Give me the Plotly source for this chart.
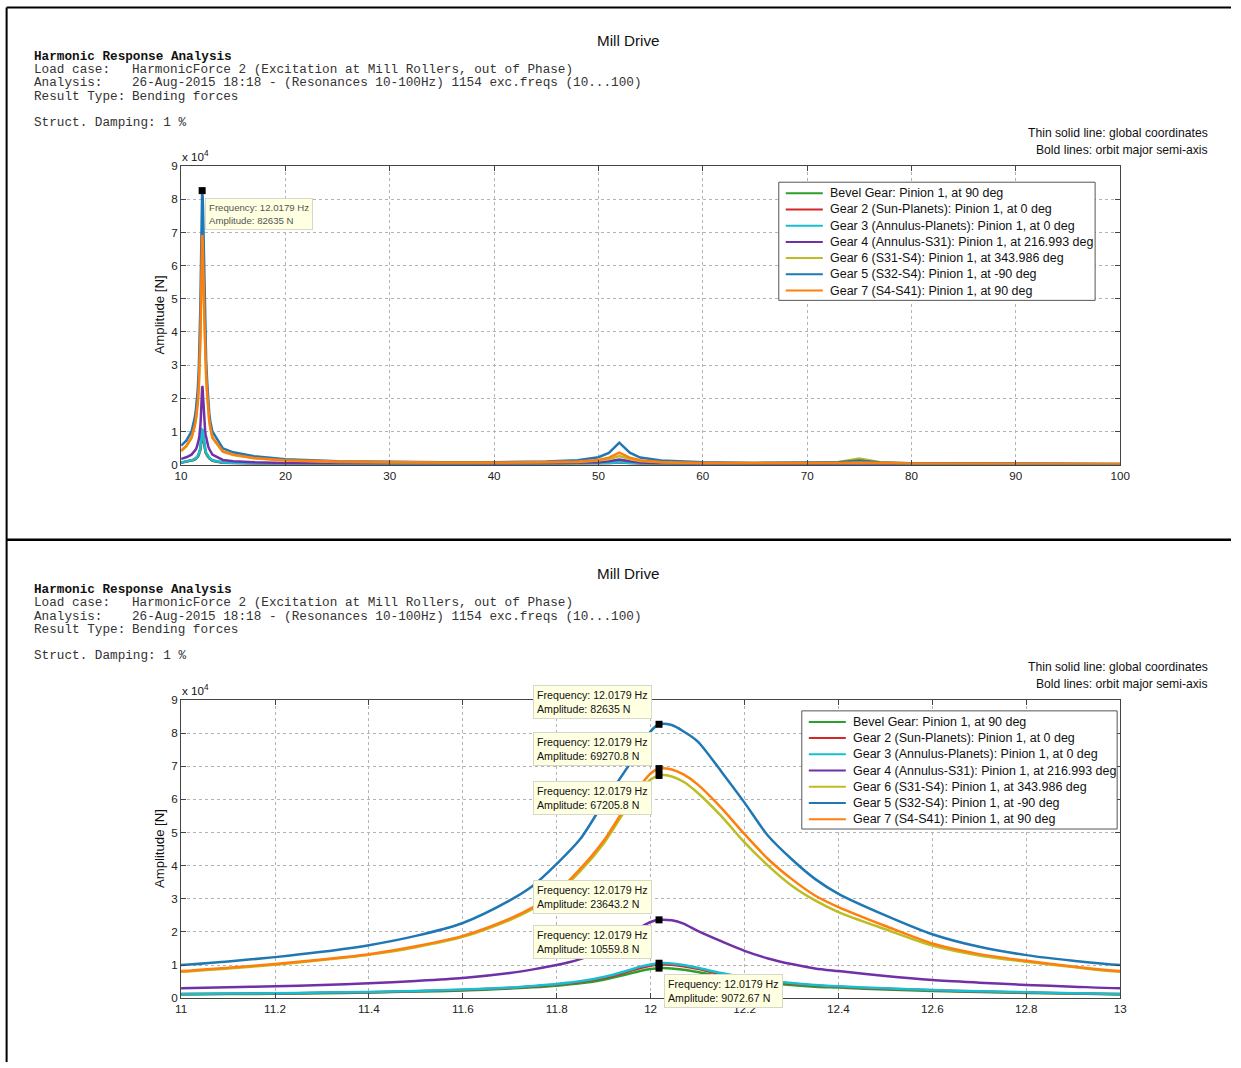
import plotly.graph_objects as go

# ---------------- data ----------------
freq = [10, 10.5, 11, 11.1, 11.2, 11.3, 11.4, 11.5, 11.6, 11.7,
        11.75, 11.8, 11.85, 11.9, 11.95, 11.98, 12.0, 12.0179, 12.045, 12.07,
        12.1, 12.15, 12.2, 12.25, 12.3, 12.35, 12.4, 12.5, 12.6, 12.7,
        12.8, 12.9, 13, 14, 15, 17, 20, 25, 30, 35,
        40, 45, 48, 50, 51, 52, 53, 54, 56, 60,
        65, 70, 73, 75, 77, 80, 90, 100]

bevel_gear = [550, 800, 1150, 1250, 1350, 1500, 1700, 2000, 2300, 2900,
              3300, 3800, 4500, 5600, 7200, 8300, 8800, 9072.67, 9000, 8600,
              7900, 6600, 5500, 4700, 4000, 3500, 3200, 2600, 2200, 1900,
              1600, 1400, 1150, 550, 400, 270, 180, 130, 130, 130,
              130, 180, 220, 300, 420, 600, 420, 260, 170, 130,
              90, 100, 200, 500, 200, 90, 70, 50]

gear2 = [580, 860, 1240, 1340, 1450, 1620, 1820, 2120, 2500, 3100,
         3550, 4150, 4900, 6100, 7900, 9200, 9800, 10150, 10100, 9650,
         8850, 7300, 6050, 5100, 4400, 3850, 3450, 2850, 2400, 2000,
         1700, 1450, 1240, 580, 430, 290, 190, 140, 140, 140,
         140, 190, 240, 330, 480, 650, 480, 290, 190, 140,
         95, 95, 140, 230, 140, 95, 75, 55]

gear3 = [600, 900, 1300, 1400, 1500, 1700, 1900, 2200, 2600, 3200,
         3700, 4300, 5100, 6400, 8300, 9600, 10200, 10559.8, 10500, 10000,
         9200, 7600, 6300, 5300, 4600, 4000, 3600, 3000, 2500, 2100,
         1800, 1500, 1300, 600, 450, 300, 200, 150, 150, 150,
         150, 200, 250, 350, 500, 700, 500, 300, 200, 150,
         100, 100, 150, 250, 150, 100, 80, 60]

gear4 = [1700, 2200, 3000, 3300, 3600, 4000, 4500, 5200, 6100, 7600,
         8700, 10000, 11800, 14500, 19000, 21500, 23000, 23643.2, 23500, 22500,
         20300, 17200, 14300, 12000, 10300, 9000, 8200, 6700, 5500, 4700,
         4000, 3500, 3000, 1400, 1000, 700, 500, 400, 300, 300,
         300, 400, 500, 700, 1000, 1500, 1000, 600, 400, 300,
         200, 200, 300, 400, 300, 200, 150, 100]

gear6 = [4100, 5500, 8000, 9000, 10100, 11500, 13100, 15400, 18500, 23600,
         27000, 31500, 38300, 46700, 57500, 63000, 66000, 67205.8, 66900, 65300,
         62000, 55000, 47000, 40000, 34000, 29500, 26000, 20800, 15900, 12900,
         11000, 9400, 8000, 3900, 2900, 1900, 1200, 800, 600, 550,
         550, 650, 800, 1200, 1700, 2600, 1700, 1100, 700, 450,
         400, 450, 800, 1800, 700, 350, 250, 200]

gear5 = [5700, 7200, 10000, 11100, 12400, 14000, 16000, 18800, 22700, 29500,
         34000, 40500, 48000, 59000, 69500, 76000, 80500, 82635, 82400, 80500,
         77500, 68500, 59000, 49000, 42000, 36000, 31500, 25000, 19300, 15500,
         13000, 11300, 10000, 4900, 3700, 2500, 1600, 1000, 800, 700,
         700, 900, 1300, 2200, 3500, 6600, 3600, 2100, 1200, 700,
         500, 500, 700, 1200, 600, 400, 250, 200]

gear7 = [4200, 5600, 8200, 9200, 10300, 11700, 13300, 15700, 18800, 24000,
         27500, 32000, 39000, 47500, 58500, 64500, 67800, 69270.8, 69000, 67500,
         64500, 57500, 49500, 42000, 36000, 31000, 27500, 21800, 16500, 13300,
         11300, 9600, 8200, 4000, 3000, 2000, 1300, 900, 700, 600,
         600, 700, 900, 1400, 2100, 3600, 2100, 1300, 800, 500,
         400, 350, 450, 600, 400, 300, 250, 200]

series_names = [
    "Bevel Gear: Pinion 1, at 90 deg",
    "Gear 2 (Sun-Planets): Pinion 1, at 0 deg",
    "Gear 3 (Annulus-Planets): Pinion 1, at 0 deg",
    "Gear 4 (Annulus-S31): Pinion 1, at 216.993 deg",
    "Gear 6 (S31-S4): Pinion 1, at 343.986 deg",
    "Gear 5 (S32-S4): Pinion 1, at -90 deg",
    "Gear 7 (S4-S41): Pinion 1, at 90 deg",
]
series_values = [bevel_gear, gear2, gear3, gear4, gear6, gear5, gear7]
series_colors = ["#2CA02C", "#D62728", "#17BECF", "#7031A8", "#BCBD22", "#1F77B4", "#FF7F0E"]

top_x_ticks = [10, 20, 30, 40, 50, 60, 70, 80, 90, 100]
bottom_x_ticks = [11, 11.2, 11.4, 11.6, 11.8, 12, 12.2, 12.4, 12.6, 12.8, 13]
bottom_x_labels = ["11", "11.2", "11.4", "11.6", "11.8", "12", "12.2", "12.4", "12.6", "12.8", "13"]
y_ticks = [0, 10000, 20000, 30000, 40000, 50000, 60000, 70000, 80000, 90000]
y_tick_labels = ["0", "1", "2", "3", "4", "5", "6", "7", "8", "9"]

top_tip_freq = [12.0179]
top_tip_amp = [82635]
bottom_tip_freq = [12.0179, 12.0179, 12.0179, 12.0179, 12.0179, 12.0179]
bottom_tip_amp = [82635, 69270.8, 67205.8, 23643.2, 10559.8, 9072.67]

header_labels = ["Load case:", "Analysis:", "Result Type:"]
header_values = ["HarmonicForce 2 (Excitation at Mill Rollers, out of Phase)",
                 "26-Aug-2015 18:18 - (Resonances 10-100Hz) 1154 exc.freqs (10...100)",
                 "Bending forces"]

# ---------------- layout helpers ----------------
W, H = 1241, 1068
# the captured picture shows the page slightly shrunk and shifted;
# positions below are given in picture pixels and converted back to page pixels
SX, SY = 0.986, 0.9866
OX, OY = 7.1, 7.0
F = 1 / SX  # size compensation

def px(x):
    return ((x - OX) / SX) / W

def py(y):
    return 1 - ((y - OY) / SY) / H

def fs(s):
    return round(s * F, 2)

SANS = "Liberation Sans, Arial, sans-serif"
MONO = "Liberation Mono, Courier New, monospace"

fig = go.Figure()

for sfx, shape in [("", "linear"), ("2", "spline")]:
    for name, vals, col in zip(series_names, series_values, series_colors):
        fig.add_trace(go.Scatter(
            x=freq, y=vals, mode="lines", name=name,
            line=dict(color=col, width=2.5, shape=shape, smoothing=0.8),
            xaxis="x" + sfx, yaxis="y" + sfx,
            showlegend=False, hoverinfo="skip"))

# datatip markers
fig.add_trace(go.Scatter(x=top_tip_freq, y=top_tip_amp, mode="markers",
                         marker=dict(symbol="square", size=7, color="black"),
                         xaxis="x", yaxis="y", showlegend=False, hoverinfo="skip",
                         cliponaxis=False))
fig.add_trace(go.Scatter(x=bottom_tip_freq, y=bottom_tip_amp, mode="markers",
                         marker=dict(symbol="square", size=7, color="black"),
                         xaxis="x2", yaxis="y2", showlegend=False, hoverinfo="skip",
                         cliponaxis=False))

axis_common = dict(
    showline=True, linecolor="#444444", linewidth=1, mirror="ticks",
    ticks="inside", ticklen=5, tickcolor="#444444",
    showgrid=True, gridcolor="#b4b4b4", griddash="dot", gridwidth=1,
    zeroline=False, tickfont=dict(family=SANS, size=fs(11.5), color="#222222"),
    fixedrange=True,
)

fig.update_layout(
    width=W, height=H, autosize=False,
    margin=dict(l=0, r=0, t=0, b=0),
    paper_bgcolor="white", plot_bgcolor="white",
    showlegend=False,
    xaxis=dict(domain=[px(182), px(1120)], anchor="y", range=[10, 100],
               tickvals=top_x_ticks, **axis_common),
    yaxis=dict(domain=[py(464), py(166)], anchor="x", range=[0, 90000],
               tickvals=y_ticks, ticktext=y_tick_labels, **axis_common),
    xaxis2=dict(domain=[px(182), px(1120)], anchor="y2", range=[11, 13],
                tickvals=bottom_x_ticks, ticktext=bottom_x_labels, **axis_common),
    yaxis2=dict(domain=[py(997), py(699)], anchor="x2", range=[0, 90000],
                tickvals=y_ticks, ticktext=y_tick_labels, **axis_common),
)

annotations = []
shapes = []

def text(x, y, s, size=12, family=SANS, anchor="left", color="#111111", **kw):
    annotations.append(dict(
        x=px(x), y=py(y), xref="paper", yref="paper", text=s, showarrow=False,
        xanchor=anchor, yanchor="middle", font=dict(family=family, size=fs(size), color=color), **kw))

def clamp(v):
    return min(max(v, 0.0005), 0.9995)

# frame lines
shapes.append(dict(type="line", xref="paper", yref="paper", x0=clamp(px(5)), x1=1,
                   y0=clamp(py(5)), y1=clamp(py(5)), line=dict(color="black", width=2)))
shapes.append(dict(type="line", xref="paper", yref="paper", x0=clamp(px(6)), x1=clamp(px(6)),
                   y0=clamp(py(5)), y1=0, line=dict(color="black", width=2)))
shapes.append(dict(type="line", xref="paper", yref="paper", x0=clamp(px(6)), x1=1,
                   y0=py(539), y1=py(539), line=dict(color="black", width=2.5)))

legend_cfg = [
    # (box x0, x1, y0, y1, line x0, x1, text x, first item y)
    (779, 1095, 182, 300, 786, 823, 828, 193),
    (802, 1117, 710, 828, 809, 846, 851, 721),
]

for panel, off in enumerate([0, 533]):
    text(629, 40 + off, "Mill Drive", size=15, anchor="center")
    text(33, 56 + off, "<b>Harmonic Response Analysis</b>", size=12.5, family=MONO)
    for i, (lab, val) in enumerate(zip(header_labels, header_values)):
        yy = [69, 82.5, 96][i] + off
        text(33, yy, lab, size=12.5, family=MONO, color="#333333")
        text(131, yy, val, size=12.5, family=MONO, color="#333333")
    text(33, 122 + off, "Struct. Damping: 1 %", size=12.5, family=MONO, color="#333333")
    text(1210, 133 + off, "Thin solid line: global coordinates", size=12, anchor="right")
    text(1210, 150 + off, "Bold lines: orbit major semi-axis", size=12, anchor="right")
    text(181, 156 + off, "x 10<sup>4</sup>", size=11.5)
    text(160, 315 + off, "Amplitude [N]", size=13, anchor="center", textangle=-90)

    bx0, bx1, by0, by1, lx0, lx1, tx, iy = legend_cfg[panel]
    shapes.append(dict(type="rect", xref="paper", yref="paper",
                       x0=px(bx0), x1=px(bx1), y0=py(by1), y1=py(by0),
                       line=dict(color="#555555", width=1), fillcolor="white", layer="above"))
    for i, (name, col) in enumerate(zip(series_names, series_colors)):
        yy = iy + 16.2 * i
        shapes.append(dict(type="line", xref="paper", yref="paper",
                           x0=px(lx0), x1=px(lx1), y0=py(yy), y1=py(yy),
                           line=dict(color=col, width=2), layer="above"))
        text(tx, yy, name, size=12.3)

# datatips
TIP_BG = "#FFFFE1"
TIP_BORDER = "#D8D8C8"
for f, a in zip(top_tip_freq, top_tip_amp):
    annotations.append(dict(
        x=f, y=a, xref="x", yref="y", showarrow=False,
        text=f"Frequency: {f} Hz<br>Amplitude: {a:g} N",
        xanchor="left", yanchor="top", xshift=3, yshift=-7, align="left",
        bgcolor=TIP_BG, bordercolor=TIP_BORDER, borderwidth=1, borderpad=3,
        font=dict(family=SANS, size=fs(9.5), color="#555555")))

tip_place = [  # xanchor, yanchor, xshift, yshift
    ("right", "bottom", -7, 5),
    ("right", "bottom", -7, 3),
    ("right", "top", -7, -6),
    ("right", "bottom", -7, 6),
    ("right", "bottom", -7, 4),
    ("left", "top", 5, -6),
]
for (f, a), (xa, ya, xs, ys) in zip(zip(bottom_tip_freq, bottom_tip_amp), tip_place):
    annotations.append(dict(
        x=f, y=a, xref="x2", yref="y2", showarrow=False,
        text=f"Frequency: {f} Hz<br>Amplitude: {a:g} N",
        xanchor=xa, yanchor=ya, xshift=xs, yshift=ys, align="left",
        bgcolor=TIP_BG, bordercolor=TIP_BORDER, borderwidth=1, borderpad=3,
        font=dict(family=SANS, size=fs(10.5), color="#111111")))

fig.update_layout(annotations=annotations, shapes=shapes)
fig.write_html("out.html",
               config={"displayModeBar": False, "staticPlot": True},
               post_script="document.body.style.margin='0';"
                           "document.body.style.overflow='hidden';"
                           "document.documentElement.style.overflow='hidden';")
